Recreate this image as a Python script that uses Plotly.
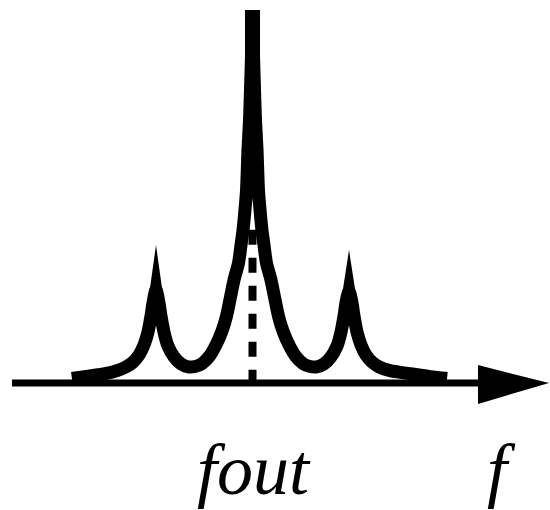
import plotly.graph_objects as go

# Spectrum around the output frequency: offset in sideband spacings, relative amplitude
# (centre line of the drawn curve)
freq = [-1.871, -1.684, -1.528, -1.404, -1.311, -1.238, -1.176, -1.124, -1.083, -1.052,
        -1.026, -1.000, -0.974, -0.948, -0.917, -0.876, -0.813, -0.741, -0.668, -0.596,
        -0.523, -0.451, -0.378, -0.316, -0.269, -0.228, -0.192, -0.145, -0.119, -0.098,
        -0.078, -0.062, -0.047, -0.031, -0.021, -0.010, 0.000,
        0.010, 0.021, 0.031, 0.047, 0.062, 0.078, 0.098, 0.119, 0.145, 0.192,
        0.228, 0.269, 0.316, 0.378, 0.451, 0.523, 0.596, 0.668, 0.741, 0.813,
        0.876, 0.917, 0.948, 0.974, 1.000, 1.026, 1.052, 1.083, 1.124, 1.176,
        1.238, 1.311, 1.425, 1.632, 1.839, 2.016]
amp = [0.012, 0.019, 0.025, 0.033, 0.043, 0.056, 0.075, 0.102, 0.136, 0.179,
       0.222, 0.249, 0.222, 0.179, 0.136, 0.099, 0.070, 0.051, 0.043, 0.044,
       0.052, 0.070, 0.102, 0.139, 0.179, 0.230, 0.275, 0.321, 0.369, 0.409,
       0.463, 0.516, 0.623, 0.703, 0.783, 0.877, 0.980,
       0.877, 0.783, 0.703, 0.623, 0.516, 0.463, 0.409, 0.369, 0.321, 0.275,
       0.230, 0.179, 0.139, 0.102, 0.070, 0.052, 0.044, 0.043, 0.051, 0.070,
       0.099, 0.136, 0.179, 0.222, 0.245, 0.222, 0.179, 0.136, 0.102, 0.075,
       0.056, 0.043, 0.033, 0.025, 0.017, 0.012]

# Carrier peak: position, flat-topped column (start, top, half width)
carrier_freq = 0.0
carrier_column_start = 0.85
carrier_peak = 0.997
carrier_halfwidth = 0.078

# Sideband spikes: position, tip height, base height and half width
sideband_freq = [-1.0, 1.0]
sideband_tip = [0.369, 0.356]
sideband_base = [0.230, 0.230]
sideband_halfwidth = [0.075, 0.075]

# Dashed carrier marker and frequency axis
carrier_marker_top = 0.414
axis_start, axis_end = -2.492, 2.378
arrow_base, arrow_tip = 2.337, 3.073
arrow_half_height = [0.048, -0.056]

labels = ["fout", "f"]
label_freq = [0.016, 2.585]
label_level = -0.232

fig = go.Figure()


def solid(xs, ys):
    return go.Scatter(x=xs, y=ys, mode="lines", fill="toself", fillcolor="black",
                      line=dict(color="black", width=0), hoverinfo="skip")


# spectrum curve
fig.add_trace(go.Scatter(x=freq, y=amp, mode="lines",
                         line=dict(color="black", width=13, shape="spline", smoothing=0.8),
                         hoverinfo="skip"))

# flat-topped carrier column
c0, c1 = carrier_freq - carrier_halfwidth, carrier_freq + carrier_halfwidth
fig.add_trace(solid([c0, c1, c1, c0, c0],
                    [carrier_column_start, carrier_column_start, carrier_peak,
                     carrier_peak, carrier_column_start]))

# pointed sideband tips
for f0, tip, base, hw in zip(sideband_freq, sideband_tip, sideband_base, sideband_halfwidth):
    fig.add_trace(solid([f0 - hw, f0, f0 + hw, f0 - hw], [base, tip, base, base]))

# dashed carrier line
fig.add_trace(go.Scatter(x=[carrier_freq, carrier_freq], y=[-0.005, carrier_marker_top],
                         mode="lines",
                         line=dict(color="black", width=8, dash="15px,13px"),
                         hoverinfo="skip"))

# frequency axis with arrow head
fig.add_trace(go.Scatter(x=[axis_start, axis_end], y=[0, 0], mode="lines",
                         line=dict(color="black", width=7), hoverinfo="skip"))
fig.add_trace(solid([arrow_base, arrow_tip, arrow_base, arrow_base],
                    [arrow_half_height[0], 0, arrow_half_height[1], arrow_half_height[0]]))

for text, fx in zip(labels, label_freq):
    fig.add_annotation(x=fx, y=label_level, xref="x", yref="y", text=text,
                       showarrow=False, xanchor="center", yanchor="middle",
                       font=dict(family="Liberation Serif", size=72,
                                 color="black", style="italic"))

fig.update_xaxes(visible=False, range=[-2.6166, 3.0829])
fig.update_yaxes(visible=False, range=[-0.33957, 1.02406])
fig.update_layout(width=550, height=510, margin=dict(l=0, r=0, t=0, b=0),
                  plot_bgcolor="white", paper_bgcolor="white", showlegend=False)

fig.write_html("out.html")
